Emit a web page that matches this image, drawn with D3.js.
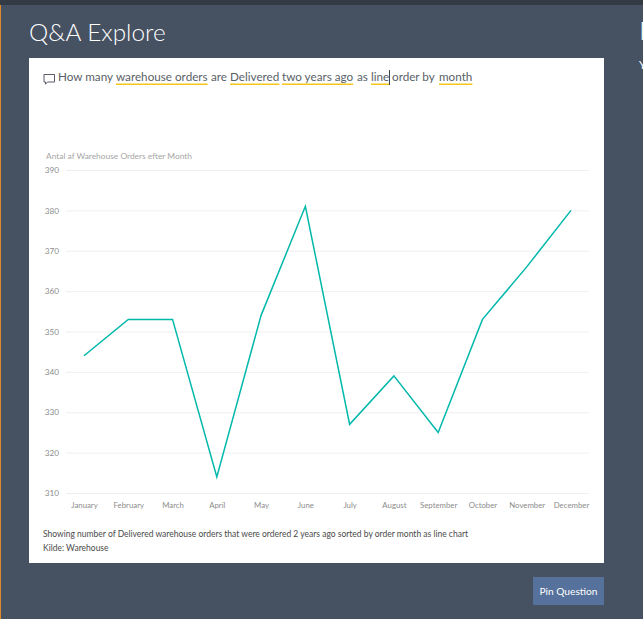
<!DOCTYPE html>
<html>
<head>
<meta charset="utf-8">
<script src="https://cdn.jsdelivr.net/npm/d3@7"></script>
<style>
  html, body { margin: 0; padding: 0; background: #465162; overflow: hidden; }
  svg { display: block; font-family: Lato, sans-serif; }
  .domain { display: none; }
</style>
</head>
<body>
<div id="chart"></div>
<script>
var months = ["January", "February", "March", "April", "May", "June", "July",
              "August", "September", "October", "November", "December"];
var orders = [344, 353, 353, 314, 354, 381, 327, 339, 325, 353, 366, 380];
var yTicks = [310, 320, 330, 340, 350, 360, 370, 380, 390];

// question words, marked = yellow underline
var questionWords = ["How many", "warehouse orders", "are", "Delivered", "two years ago", "as", "line", "order by", "month"];
var questionMarked = [false, true, false, true, true, false, true, false, true];
var questionX = [58, 116, 211, 230, 282, 357, 371, 392, 439];

var width = 643,
    height = 619;

var svg = d3.select("#chart")
            .append("svg")
            .attr("width", width)
            .attr("height", height);

// page frame
svg.append("rect").attr("width", width).attr("height", height).attr("fill", "#465162");
svg.append("rect").attr("width", width).attr("height", 5).attr("fill", "#343b44");
svg.append("rect").attr("y", 5).attr("width", 1).attr("height", height).attr("fill", "#e08a2c");

svg.append("text")
   .attr("x", 29)
   .attr("y", 41)
   .attr("fill", "#ffffff")
   .style("font-weight", 300)
   .style("font-size", "24.3px")
   .text("Q&A Explore");

svg.append("text").attr("x", 639).attr("y", 40).attr("fill", "#ffffff")
   .style("font-size", "26px").style("font-weight", 300).text("P");
svg.append("text").attr("x", 639).attr("y", 69).attr("fill", "#ffffff")
   .style("font-size", "11px").text("Y");

// card
svg.append("rect")
   .attr("x", 29)
   .attr("y", 58)
   .attr("width", 575)
   .attr("height", 505)
   .attr("fill", "#ffffff");

// speech bubble icon
svg.append("path")
   .attr("d", "M44 74.5h10.5v7.5h-7l-2 2.2v-2.2h-1.5z")
   .attr("fill", "none")
   .attr("stroke", "#5a5a6a")
   .attr("stroke-width", 1);

questionWords.forEach(function (w, i) {
  var t = svg.append("text")
     .attr("x", questionX[i])
     .attr("y", 81)
     .attr("fill", "#5a5f66")
     .style("font-size", "11.7px")
     .text(w);

  if (questionMarked[i]) {
    var len = t.node().getComputedTextLength();
    svg.append("rect")
       .attr("x", questionX[i])
       .attr("y", 83.5)
       .attr("width", len)
       .attr("height", 1.5)
       .attr("fill", "#f5c518");
  }
});

// caret after "line"
svg.append("rect").attr("x", 389).attr("y", 70).attr("width", 1).attr("height", 15).attr("fill", "#3c4550");

svg.append("text")
   .attr("x", 46)
   .attr("y", 159)
   .attr("fill", "#a6a6a6")
   .style("font-size", "8.4px")
   .text("Antal af Warehouse Orders efter Month");

var x = d3.scalePoint().domain(months).range([84, 571]);
var y = d3.scaleLinear().domain([310, 390]).range([493, 170]);

var yAxis = svg.append("g")
   .attr("transform", "translate(66,0)")
   .call(d3.axisLeft(y).tickValues(yTicks).tickSize(-523).tickPadding(7));
yAxis.selectAll("line").attr("stroke", "#efefef");
yAxis.selectAll("text")
     .attr("fill", "#8c8c8c")
     .style("font-size", "8.2px")
     .style("font-family", "Lato");

var xAxis = svg.append("g")
   .attr("transform", "translate(0,493)")
   .call(d3.axisBottom(x).tickSize(0).tickPadding(9));
xAxis.selectAll("text")
     .attr("fill", "#8c8c8c")
     .style("font-size", "7.8px")
     .style("font-family", "Lato");

var line = d3.line()
   .x(function (d, i) { return x(months[i]); })
   .y(function (d) { return y(d); });

svg.append("path")
   .datum(orders)
   .attr("d", line)
   .attr("fill", "none")
   .attr("stroke", "#01b8aa")
   .attr("stroke-width", 1.5);

svg.append("text")
   .attr("x", 43)
   .attr("y", 537)
   .attr("fill", "#4a4a4a")
   .style("font-size", "8.5px")
   .text("Showing number of Delivered warehouse orders that were ordered 2 years ago sorted by order month as line chart");

svg.append("text")
   .attr("x", 43)
   .attr("y", 551)
   .attr("fill", "#4a4a4a")
   .style("font-size", "8.5px")
   .text("Kilde: Warehouse");

// pin button
svg.append("rect")
   .attr("x", 533)
   .attr("y", 577)
   .attr("width", 71)
   .attr("height", 28)
   .attr("fill", "#56719c");

svg.append("text")
   .attr("x", 568.5)
   .attr("y", 595)
   .attr("text-anchor", "middle")
   .attr("fill", "#ffffff")
   .style("font-size", "10.2px")
   .text("Pin Question");
</script>
</body>
</html>
